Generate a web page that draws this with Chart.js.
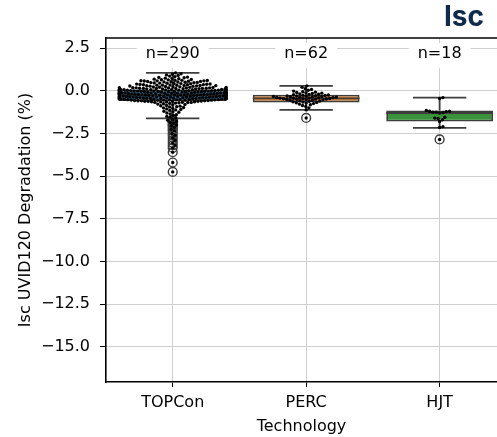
<!DOCTYPE html>
<html>
<head>
<meta charset="utf-8">
<script src="https://cdn.jsdelivr.net/npm/chart.js@4/dist/chart.umd.min.js"></script>
<style>
  html, body { margin: 0; padding: 0; background: #fff; overflow: hidden; }
  #wrap { position: relative; width: 497px; height: 437px; }
  #tag { position: absolute; left: 444px; top: 2px; font: 700 28px/28px Inter, sans-serif; color: #0f2a4a; }
</style>
</head>
<body>
<div id="wrap">
  <canvas id="chart" width="497" height="437"></canvas>
  <div id="tag">Isc</div>
</div>
<script>
// Isc UVID120 degradation by technology — box plot + swarm
var categories = ['TOPCon', 'PERC', 'HJT'];

var topconValues = [
    1.05, 1.00, 0.97, 0.93, 0.90, 0.86, 0.83, 0.80, 0.78, 0.76, 0.74, 0.72, 0.70, 0.68, 0.66,
    0.65, 0.64, 0.62, 0.61, 0.60, 0.59, 0.58, 0.58, 0.57, 0.56, 0.55, 0.54, 0.53, 0.52, 0.51,
    0.50, 0.49, 0.48, 0.47, 0.46, 0.45, 0.44, 0.43, 0.42, 0.41, 0.40, 0.39, 0.38, 0.37, 0.36,
    0.35, 0.35, 0.34, 0.33, 0.33, 0.32, 0.31, 0.31, 0.30, 0.30,
    0.29, 0.28, 0.27, 0.26, 0.25, 0.24, 0.23, 0.22, 0.21, 0.20,
    0.19, 0.19, 0.18, 0.18, 0.17, 0.17, 0.16, 0.16, 0.15, 0.15, 0.14, 0.14, 0.13, 0.13, 0.12,
    0.12, 0.11, 0.11, 0.10, 0.10,
    0.09, 0.09, 0.08, 0.08, 0.07, 0.07, 0.06, 0.06, 0.05, 0.05, 0.04, 0.04, 0.03, 0.03, 0.02,
    0.02, 0.01, 0.01, 0.00, 0.00,
    -0.01, -0.01, -0.02, -0.02, -0.03, -0.03, -0.04, -0.04, -0.05, -0.05, -0.05, -0.06, -0.06,
    -0.07, -0.07, -0.08, -0.08, -0.09, -0.09, -0.10, -0.10,
    -0.11, -0.11, -0.12, -0.12, -0.13, -0.13, -0.14, -0.14, -0.15, -0.15, -0.15, -0.16, -0.16,
    -0.17, -0.17, -0.18, -0.18, -0.19, -0.19, -0.20, -0.20,
    -0.21, -0.21, -0.22, -0.22, -0.23, -0.23, -0.24, -0.24, -0.25, -0.25, -0.25, -0.26, -0.26,
    -0.27, -0.27, -0.28, -0.28, -0.29, -0.29, -0.30, -0.30,
    -0.31, -0.31, -0.32, -0.32, -0.33, -0.33, -0.34, -0.34, -0.35, -0.35, -0.35, -0.36, -0.36,
    -0.37, -0.37, -0.38, -0.38, -0.39, -0.39, -0.40, -0.40,
    -0.41, -0.41, -0.42, -0.42, -0.42, -0.43, -0.43, -0.44, -0.44, -0.45, -0.45, -0.45, -0.46,
    -0.46, -0.47, -0.47, -0.48, -0.48, -0.48, -0.49, -0.49, -0.50,
    -0.51, -0.51, -0.52, -0.52, -0.53, -0.53, -0.54, -0.54, -0.55, -0.55, -0.56, -0.56, -0.57,
    -0.57, -0.58, -0.58, -0.59, -0.60,
    -0.61, -0.62, -0.62, -0.63, -0.64, -0.64, -0.65, -0.66, -0.67, -0.68, -0.68, -0.69, -0.70,
    -0.72, -0.74, -0.76, -0.78, -0.80, -0.83, -0.86, -0.88, -0.90, -0.93, -0.95, -0.98, -1.00,
    -1.03, -1.06, -1.10, -1.12, -1.15, -1.20, -1.23, -1.26, -1.30, -1.35, -1.40, -1.45, -1.50,
    -1.55, -1.60,
    -1.68, -1.72, -1.80, -1.85, -1.90, -2.00, -2.05, -2.15, -2.25, -2.35, -2.50, -2.60, -2.75,
    -2.90, -3.05, -3.20, -3.35, -3.60, -4.20, -4.75
];

var percValues = [
    0.29, 0.20, 0.12, 0.08, 0.03, -0.02, -0.05, -0.08, -0.10, -0.12, -0.14, -0.16, -0.18, -0.20,
    -0.21, -0.23, -0.25, -0.26, -0.28, -0.29, -0.30, -0.31, -0.32, -0.33, -0.34, -0.35, -0.36,
    -0.37, -0.38, -0.39, -0.40, -0.41, -0.42, -0.43, -0.44, -0.45, -0.46, -0.47, -0.48, -0.49,
    -0.50, -0.51, -0.52, -0.53, -0.55, -0.56, -0.58, -0.60, -0.62, -0.64, -0.66, -0.68, -0.70,
    -0.72, -0.75, -0.78, -0.82, -0.86, -0.92, -1.00, -1.12, -1.59
];

var hjtValues = [
    -0.40, -0.45, -1.15, -1.20, -1.20, -1.22, -1.25, -1.25, -1.28, -1.30, -1.55, -1.60, -1.62,
    -1.70, -1.80, -2.10, -2.15, -2.85
];

// box statistics as drawn in the figure
var q1 = [-0.60, -0.68, -1.80];
var medians = [-0.25, -0.45, -1.30];
var q3 = [0.06, -0.23, -1.16];
var whiskerLow = [-1.61, -1.12, -2.17];
var whiskerHigh = [1.05, 0.29, -0.40];

var yTicks = [2.5, 0, -2.5, -5, -7.5, -10, -12.5, -15];
var boxColors = ['#3274a1', '#e1812c', '#3a923a'];

var groupValues = [topconValues, percValues, hjtValues];
var lineColor = '#3d3d3d';
var fontFamily = "'DejaVu Sans', sans-serif";

// ── derived series ─────────────────────────────────────
var boxData = categories.map(function (c, i) { return { x: i, y: [q1[i], q3[i]] }; });

var medianData = [];
var whiskerData = [];
categories.forEach(function (c, i) {
    medianData.push({ x: i - 0.4, y: medians[i] }, { x: i + 0.4, y: medians[i] }, { x: i, y: null });
    whiskerData.push(
        { x: i, y: q3[i] }, { x: i, y: whiskerHigh[i] }, { x: i, y: null },
        { x: i - 0.2, y: whiskerHigh[i] }, { x: i + 0.2, y: whiskerHigh[i] }, { x: i, y: null },
        { x: i, y: q1[i] }, { x: i, y: whiskerLow[i] }, { x: i, y: null },
        { x: i - 0.2, y: whiskerLow[i] }, { x: i + 0.2, y: whiskerLow[i] }, { x: i, y: null }
    );
});

var flierData = [];
groupValues.forEach(function (vals, i) {
    vals.forEach(function (v) {
        if (v < whiskerLow[i] - 1e-9 || v > whiskerHigh[i] + 1e-9) flierData.push({ x: i, y: v });
    });
});

// initial swarm at the centre line; spread after scales exist
var swarmData = [];
groupValues.forEach(function (vals, i) {
    vals.forEach(function (v) { swarmData.push({ x: i, y: v }); });
});

function swarmLayout(vals, idx, xs, ys) {
    var d = 3.4;
    var cx = xs.getPixelForValue(idx);
    var unit = xs.getPixelForValue(idx + 1) - cx;
    var half = 0.4 * unit;
    var sorted = vals.slice().sort(function (a, b) { return a - b; });
    var placed = [];
    sorted.forEach(function (v) {
        var py = ys.getPixelForValue(v);
        var near = placed.filter(function (p) { return Math.abs(p.y - py) < d; });
        var cands = [0];
        near.forEach(function (n) {
            var dx = Math.sqrt(d * d - (n.y - py) * (n.y - py));
            cands.push(n.x + dx, n.x - dx);
        });
        cands.sort(function (a, b) { return Math.abs(a) - Math.abs(b); });
        var chosen = cands[cands.length - 1];
        for (var k = 0; k < cands.length; k++) {
            var x = cands[k];
            var hit = near.some(function (n) {
                return (x - n.x) * (x - n.x) + (py - n.y) * (py - n.y) < d * d - 1e-3;
            });
            if (!hit) { chosen = x; break; }
        }
        placed.push({ x: chosen, y: py, v: v });
    });
    return placed.map(function (p) {
        var off = Math.max(-half, Math.min(half, p.x));
        return { x: idx + off / unit, y: p.v };
    });
}

// ── plugins ─────────────────────────────────────────────
var frameTop = {
    id: 'frameTop',
    afterDraw: function (chart) {
        var a = chart.chartArea, ctx = chart.ctx;
        ctx.save();
        ctx.strokeStyle = '#000';
        ctx.lineWidth = 1.6;
        ctx.beginPath();
        ctx.moveTo(a.left, a.top);
        ctx.lineTo(a.right, a.top);
        ctx.stroke();
        ctx.restore();
    }
};

var countLabels = {
    id: 'countLabels',
    afterDatasetsDraw: function (chart) {
        var ctx = chart.ctx, xs = chart.scales.x, ys = chart.scales.y;
        ctx.save();
        ctx.font = '16px ' + fontFamily;
        ctx.textAlign = 'center';
        ctx.textBaseline = 'middle';
        groupValues.forEach(function (vals, i) {
            var label = 'n=' + vals.length;
            var x = xs.getPixelForValue(i);
            var y = ys.getPixelForValue(2.15);
            var w = ctx.measureText(label).width;
            ctx.fillStyle = '#fff';
            ctx.fillRect(x - w / 2 - 9, y - 11, w + 18, 25);
            ctx.fillStyle = '#000';
            ctx.fillText(label, x, y);
        });
        ctx.restore();
    }
};

var chart = new Chart(document.getElementById('chart').getContext('2d'), {
    type: 'scatter',
    data: {
        datasets: [
            { type: 'scatter', data: swarmData, pointRadius: 1.7, pointHoverRadius: 1.7,
              backgroundColor: '#000', borderWidth: 0, order: 0 },
            { type: 'scatter', data: flierData, pointRadius: 4.4, pointHoverRadius: 4.4,
              backgroundColor: 'rgba(0,0,0,0)', borderColor: lineColor, borderWidth: 1.4, order: 1 },
            { type: 'line', data: medianData, borderColor: lineColor, borderWidth: 1.8,
              pointRadius: 0, spanGaps: false, order: 2 },
            { type: 'line', data: whiskerData, borderColor: lineColor, borderWidth: 1.8,
              pointRadius: 0, spanGaps: false, order: 3 },
            { type: 'bar', data: boxData, backgroundColor: boxColors, borderColor: lineColor,
              borderWidth: 1.8, borderSkipped: false, barPercentage: 1, categoryPercentage: 0.8, order: 4 }
        ]
    },
    options: {
        responsive: false,
        animation: false,
        layout: { autoPadding: false, padding: { top: 38, right: 0, bottom: 0, left: 0 } },
        plugins: { legend: { display: false }, tooltip: { enabled: false } },
        scales: {
            x: {
                type: 'linear',
                min: -0.5,
                max: 2.43,
                offset: false,
                grid: { offset: false, color: '#cfcfcf', lineWidth: 1, tickColor: '#000', tickLength: 5 },
                border: { color: '#000', width: 1.6 },
                afterBuildTicks: function (scale) {
                    scale.ticks = categories.map(function (c, i) { return { value: i }; });
                },
                afterFit: function (scale) { scale.height = 55; },
                ticks: {
                    autoSkip: false,
                    maxRotation: 0,
                    padding: 6,
                    color: '#000',
                    font: { family: fontFamily, size: 16 },
                    callback: function (v) { return categories[v]; }
                },
                title: {
                    display: true,
                    text: 'Technology',
                    color: '#000',
                    font: { family: fontFamily, size: 16 },
                    padding: { top: 0, bottom: 1 }
                }
            },
            y: {
                min: -17.05,
                max: 3.09,
                grid: { color: '#cfcfcf', lineWidth: 1, tickColor: '#000', tickLength: 6 },
                border: { color: '#000', width: 1.6 },
                afterBuildTicks: function (scale) {
                    scale.ticks = yTicks.map(function (v) { return { value: v }; });
                },
                afterFit: function (scale) { scale.width = 106; },
                ticks: {
                    padding: 10,
                    color: '#000',
                    font: { family: fontFamily, size: 16 },
                    callback: function (v) {
                        var s = Math.abs(v).toFixed(1);
                        return v < 0 ? '\u2212' + s : s;
                    }
                },
                title: {
                    display: true,
                    text: 'Isc UVID120 Degradation (%)',
                    color: '#000',
                    font: { family: fontFamily, size: 16 },
                    padding: { top: 16, bottom: 0 }
                }
            }
        }
    },
    plugins: [frameTop, countLabels]
});

// spread swarm points using the chart's own scales
var spread = [];
groupValues.forEach(function (vals, i) {
    spread = spread.concat(swarmLayout(vals, i, chart.scales.x, chart.scales.y));
});
chart.data.datasets[0].data = spread;
chart.update('none');
</script>
</body>
</html>
